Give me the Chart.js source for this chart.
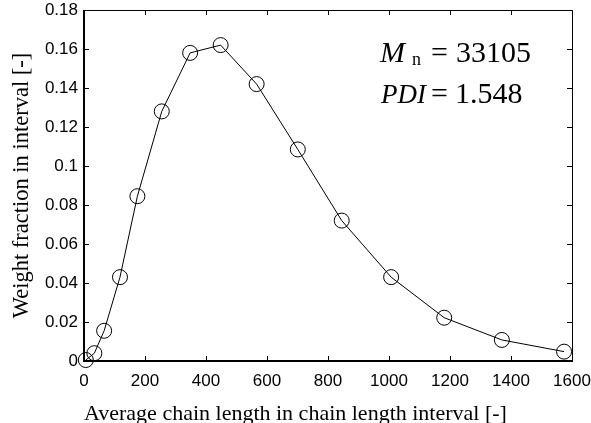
<!DOCTYPE html>
<html>
<head>
<meta charset="utf-8">
<script src="https://cdn.jsdelivr.net/npm/chart.js@4"></script>
<style>
  html, body { margin: 0; padding: 0; background: #fff; }
  #wrap { width: 591px; height: 423px; }
</style>
</head>
<body>
<div id="wrap"><canvas id="chart-mwd"></canvas></div>
<script>
// chain length distribution
const chainLength = [6, 34, 66, 118, 175, 255, 348, 448, 566, 701, 845, 1007, 1181, 1370, 1574];
const weightFraction = [0.0005, 0.004, 0.0155, 0.043, 0.0845, 0.128, 0.158, 0.162, 0.142, 0.1085, 0.072, 0.043, 0.0222, 0.0108, 0.0048];

const xTicks = [0, 200, 400, 600, 800, 1000, 1200, 1400, 1600];
const yTicks = [0, 0.02, 0.04, 0.06, 0.08, 0.1, 0.12, 0.14, 0.16, 0.18];

const ctxMwd = document.getElementById("chart-mwd");
const serif = '"Liberation Serif", "Times New Roman", serif';
const sans = '"Liberation Sans", Arial, sans-serif';

// matlab-ish box: inward ticks on all four sides + the Mn / PDI note
const boxPlugin = {
  id: "box",
  afterDatasetsDraw(chart) {
    const { ctx, chartArea, scales } = chart;
    const { left, right, top, bottom } = chartArea;
    const tl = 5;
    ctx.save();
    ctx.strokeStyle = "#000";
    ctx.lineWidth = 1;
    ctx.beginPath();
    xTicks.forEach((v) => {
      const px = Math.round(scales.x.getPixelForValue(v)) + 0.5;
      ctx.moveTo(px, bottom);
      ctx.lineTo(px, bottom - tl);
      ctx.moveTo(px, top);
      ctx.lineTo(px, top + tl);
    });
    yTicks.forEach((v) => {
      const py = Math.round(scales.y.getPixelForValue(v)) + 0.5;
      ctx.moveTo(left, py);
      ctx.lineTo(left + tl, py);
      ctx.moveTo(right, py);
      ctx.lineTo(right - tl, py);
    });
    // top + right frame
    ctx.moveTo(left, top + 0.5);
    ctx.lineTo(right + 0.5, top + 0.5);
    ctx.lineTo(right + 0.5, bottom);
    ctx.stroke();
    // left + bottom frame, a bit heavier
    ctx.lineWidth = 2;
    ctx.beginPath();
    ctx.moveTo(left, top);
    ctx.lineTo(left, bottom);
    ctx.lineTo(right + 1, bottom);
    ctx.stroke();

    // annotation
    ctx.fillStyle = "#000";
    ctx.textBaseline = "alphabetic";
    ctx.textAlign = "left";
    ctx.font = "italic 30px " + serif;
    ctx.fillText("M", 380, 62);
    ctx.font = "18px " + serif;
    ctx.fillText("n", 412, 65);
    ctx.font = "30px " + serif;
    ctx.fillText("=", 431, 62);
    ctx.fillText("33105", 456, 62);
    ctx.font = "italic 27px " + serif;
    ctx.fillText("PDI", 381, 103);
    ctx.font = "30px " + serif;
    ctx.fillText("=", 431, 103);
    ctx.fillText("1.548", 455, 103);
    ctx.restore();
  },
};

new Chart(ctxMwd, {
  type: "line",
  data: {
    datasets: [
      {
        label: "weight fraction",
        data: chainLength.map((x, i) => ({ x: x, y: weightFraction[i] })),
        borderColor: "#000",
        borderWidth: 1,
        backgroundColor: "rgba(0,0,0,0)",
        pointRadius: 7.5,
        pointBorderWidth: 1,
        pointBorderColor: "#000",
        pointBackgroundColor: "rgba(0,0,0,0)",
        tension: 0,
        clip: false,
      },
    ],
  },
  options: {
    responsive: true,
    maintainAspectRatio: false,
    animation: false,
    layout: {
      padding: { top: 10, right: 19, left: 0, bottom: 0 },
    },
    scales: {
      x: {
        type: "linear",
        min: 0,
        max: 1600,
        afterBuildTicks: (scale) => {
          scale.ticks = xTicks.map((v) => ({ value: v }));
        },
        afterFit: (scale) => {
          scale.height = 62;
          scale.paddingLeft = 0;
          scale.paddingRight = 0;
        },
        grid: { display: false, drawTicks: false },
        border: { display: false },
        ticks: {
          color: "#000",
          padding: 10,
          maxRotation: 0,
          font: { family: sans, size: 17 },
          callback: (v) => String(v),
        },
        title: {
          display: true,
          align: "start",
          text: "Average chain length in chain length interval [-]",
          color: "#000",
          padding: { top: 0, bottom: -4 },
          font: { family: serif, size: 22 },
        },
      },
      y: {
        type: "linear",
        min: 0,
        max: 0.18,
        afterBuildTicks: (scale) => {
          scale.ticks = yTicks.map((v) => ({ value: v }));
        },
        afterFit: (scale) => {
          scale.width = 84;
          scale.paddingTop = 0;
          scale.paddingBottom = 0;
        },
        grid: { display: false, drawTicks: false },
        border: { display: false },
        ticks: {
          color: "#000",
          padding: 6,
          font: { family: sans, size: 17 },
          callback: (v) => String(Number(v.toFixed(2))),
        },
        title: {
          display: true,
          text: "Weight fraction in interval [-]",
          color: "#000",
          padding: { top: 9, bottom: 0 },
          font: { family: serif, size: 22.5 },
        },
      },
    },
    plugins: {
      legend: { display: false },
      tooltip: { enabled: false },
    },
  },
  plugins: [boxPlugin],
});
</script>
</body>
</html>
